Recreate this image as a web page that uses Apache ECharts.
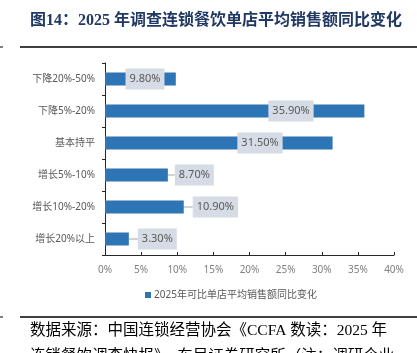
<!DOCTYPE html>
<html>
<head>
<meta charset="utf-8">
<script src="https://cdn.jsdelivr.net/npm/echarts@6/dist/echarts.min.js"></script>
<style>
  html, body { margin: 0; padding: 0; background: #fff; }
  #chart { width: 417px; height: 353px; }
</style>
</head>
<body>
<div id="chart"></div>
<script>
// data
const categories = ['下降20%-50%', '下降5%-20%', '基本持平', '增长5%-10%', '增长10%-20%', '增长20%以上'];
const values = [9.8, 35.9, 31.5, 8.7, 10.9, 3.3];
const seriesName = '2025年可比单店平均销售额同比变化';
const xTicks = [0, 5, 10, 15, 20, 25, 30, 35, 40];

// label placement (Excel-style callouts): inside ones centred at x px from bar start, outside ones pushed right
const insideCenter = [40, 186, 155, null, null, null];
const outsideShift = [null, null, null, 7, 9, 9];

const chart = echarts.init(document.getElementById('chart'));
const font = '"Noto Sans", "Noto Sans CJK SC", sans-serif';

const barData = values.map((v, i) => {
  const item = { value: v };
  if (insideCenter[i] !== null) {
    item.label = { position: [insideCenter[i], '50%'], align: 'center', verticalAlign: 'middle' };
    item.labelLine = { show: false };
  } else {
    item.label = { position: 'right', distance: 0 };
  }
  return item;
});

const option = {
  animation: false,
  grid: { left: 105, right: 23, top: 63, bottom: 98 },
  xAxis: {
    type: 'value',
    min: xTicks[0],
    max: xTicks[xTicks.length - 1],
    interval: 5,
    splitLine: { show: false },
    axisLine: { show: true, lineStyle: { color: '#262626', width: 1 } },
    axisTick: { show: true, inside: true, length: 3, lineStyle: { color: '#262626' } },
    axisLabel: { formatter: '{value}%', color: '#7f7f7f', fontSize: 10, margin: 10, fontFamily: font }
  },
  yAxis: {
    type: 'category',
    data: categories,
    inverse: true,
    axisLine: { show: true, lineStyle: { color: '#262626', width: 1 } },
    axisTick: { show: true, length: 3, lineStyle: { color: '#262626' } },
    axisLabel: { color: '#595959', fontSize: 10, margin: 10, fontFamily: font }
  },
  legend: {
    data: [seriesName],
    left: 140,
    top: 285,
    icon: 'rect',
    itemWidth: 6,
    itemHeight: 6,
    itemGap: 3,
    textStyle: { color: '#595959', fontSize: 10, fontFamily: font, padding: [0, 0, 0, -2] }
  },
  series: [{
    name: seriesName,
    type: 'bar',
    data: barData,
    barWidth: 13,
    itemStyle: { color: '#2E75B6' },
    label: {
      show: true,
      formatter: p => p.value.toFixed(2) + '%',
      color: '#595959',
      fontSize: 11,
      fontFamily: font,
      backgroundColor: '#D6DCE5',
      padding: [5, 4, 5, 4]
    },
    labelLine: { show: true, lineStyle: { color: '#a6a6a6', width: 1 } },
    labelLayout: p => (outsideShift[p.dataIndex] !== null ? { dx: outsideShift[p.dataIndex] } : {})
  }],
  graphic: [
    {
      type: 'text', left: 30, top: 13,
      style: { text: '图14：2025 年调查连锁餐饮单店平均销售额同比变化', fill: '#203864',
        font: 'bold 16px "Liberation Serif", "Noto Sans CJK SC", serif' }
    },
    { type: 'line', shape: { x1: 20, y1: 47, x2: 417, y2: 47 }, style: { stroke: '#000', lineWidth: 1.3 } },
    { type: 'line', shape: { x1: 0, y1: 47, x2: 3, y2: 47 }, style: { stroke: '#000', lineWidth: 1 } },
    { type: 'line', shape: { x1: 20, y1: 317, x2: 417, y2: 317 }, style: { stroke: '#000', lineWidth: 1.3 } },
    { type: 'line', shape: { x1: 0, y1: 317, x2: 3, y2: 317 }, style: { stroke: '#000', lineWidth: 1 } },
    {
      type: 'text', left: 30, top: 323,
      style: { text: '数据来源：中国连锁经营协会《CCFA 数读：2025 年', fill: '#000',
        font: '15.5px "Liberation Serif", "Noto Sans CJK SC", serif' }
    },
    {
      type: 'text', left: 30, top: 349,
      style: { text: '连锁餐饮调查快报》，东吴证券研究所（注：调研企业', fill: '#000',
        font: '15.5px "Liberation Serif", "Noto Sans CJK SC", serif' }
    }
  ]
};

chart.setOption(option);
</script>
</body>
</html>
